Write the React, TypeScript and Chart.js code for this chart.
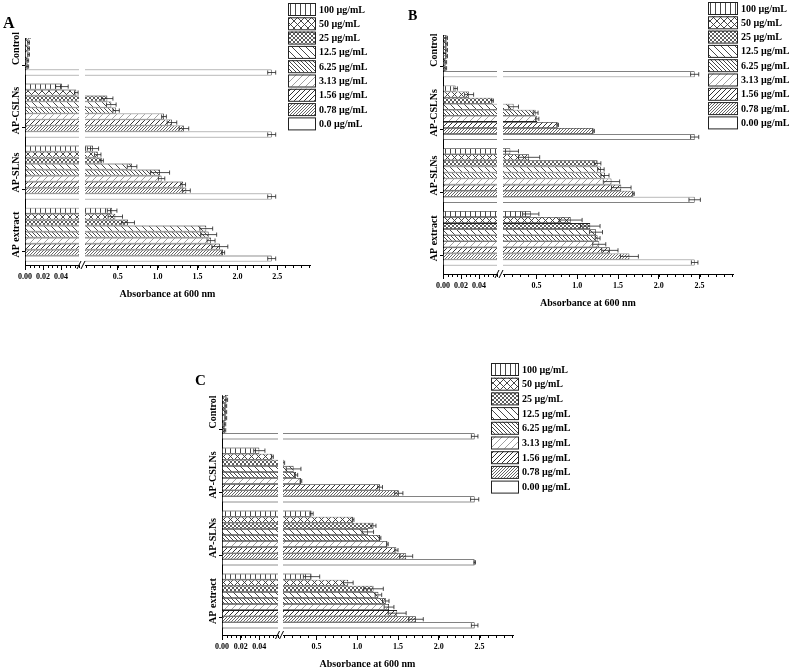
import { useEffect, useRef } from 'react';
import Chart from 'chart.js/auto';

const SERIF = '"Liberation Serif", "Times New Roman", serif';

// categories, top to bottom
const GROUPS = ['Control', 'AP-CSLNs', 'AP-SLNs', 'AP extract'];

// series labels, order 100 -> 0 µg/mL (legend order, also bar order inside a group)
const LEGEND_A = ['100 µg/mL', '50 µg/mL', '25 µg/mL', '12.5 µg/mL', '6.25 µg/mL', '3.13 µg/mL', '1.56 µg/mL', '0.78 µg/mL', '0.0 µg/mL'];
const LEGEND_BC = ['100 µg/mL', '50 µg/mL', '25 µg/mL', '12.5 µg/mL', '6.25 µg/mL', '3.13 µg/mL', '1.56 µg/mL', '0.78 µg/mL', '0.00 µg/mL'];

// broken x axis
const LEFT_TICKS = [0, 0.02, 0.04];
const RIGHT_TICKS = [0.5, 1.0, 1.5, 2.0, 2.5];
const LEFT_MIN = 0;
const LEFT_MAX = 0.06;
const RIGHT_MIN = 0.09;
const RIGHT_MAX = 2.91;
const LEFT_MINOR = 0.005;
const RIGHT_MINOR = 0.1;
const X_TITLE = 'Absorbance at 600 nm';

// panel A (means and SD, 100 -> 0.0 µg/mL)
const A_CONTROL = [0.005, 0.005, 0.005, 0.004, 0.004, 0.004, 0.003, 0.003, 2.43];
const A_CONTROL_SD = [0.001, 0.001, 0.001, 0.001, 0.001, 0.001, 0.001, 0.001, 0.05];
const A_CSLN = [0.041, 0.057, 0.37, 0.42, 0.48, 1.08, 1.18, 1.33, 2.43];
const A_CSLN_SD = [0.007, 0.002, 0.07, 0.06, 0.04, 0.03, 0.06, 0.06, 0.05];
const A_SLN = [0.19, 0.25, 0.3, 0.68, 1.03, 1.05, 1.32, 1.36, 2.43];
const A_SLN_SD = [0.07, 0.04, 0.02, 0.06, 0.12, 0.04, 0.03, 0.05, 0.05];
const A_EXTRACT = [0.43, 0.47, 0.63, 1.61, 1.64, 1.67, 1.78, 1.82, 2.43];
const A_EXTRACT_SD = [0.06, 0.09, 0.08, 0.08, 0.1, 0.05, 0.1, 0.02, 0.05];

// panel B
const B_CONTROL = [0.005, 0.005, 0.004, 0.004, 0.004, 0.004, 0.003, 0.003, 2.44];
const B_CONTROL_SD = [0.001, 0.001, 0.001, 0.001, 0.001, 0.001, 0.001, 0.001, 0.05];
const B_CSLN = [0.014, 0.029, 0.055, 0.22, 0.49, 0.51, 0.76, 1.2, 2.44];
const B_CSLN_SD = [0.002, 0.005, 0.001, 0.06, 0.03, 0.02, 0.01, 0.01, 0.05];
const B_SLN = [0.18, 0.41, 1.25, 1.29, 1.34, 1.42, 1.54, 1.69, 2.44];
const B_SLN_SD = [0.1, 0.13, 0.04, 0.04, 0.05, 0.1, 0.12, 0.01, 0.07];
const B_EXTRACT = [0.43, 0.92, 1.16, 1.23, 1.25, 1.27, 1.4, 1.64, 2.44];
const B_EXTRACT_SD = [0.1, 0.14, 0.12, 0.08, 0.03, 0.08, 0.1, 0.11, 0.04];

// panel C
const C_CONTROL = [0.005, 0.005, 0.005, 0.004, 0.004, 0.004, 0.003, 0.003, 2.44];
const C_CONTROL_SD = [0.001, 0.001, 0.001, 0.001, 0.001, 0.001, 0.001, 0.001, 0.04];
const C_CSLN = [0.04, 0.054, 0.1, 0.22, 0.25, 0.31, 1.28, 1.51, 2.44];
const C_CSLN_SD = [0.006, 0.001, 0.01, 0.09, 0.02, 0.01, 0.03, 0.05, 0.05];
const C_SLN = [0.44, 0.95, 1.2, 1.13, 1.28, 1.37, 1.48, 1.6, 2.44];
const C_SLN_SD = [0.02, 0.01, 0.03, 0.07, 0.01, 0.01, 0.02, 0.08, 0.01];
const C_EXTRACT = [0.44, 0.89, 1.2, 1.26, 1.35, 1.39, 1.49, 1.72, 2.44];
const C_EXTRACT_SD = [0.1, 0.06, 0.12, 0.04, 0.04, 0.06, 0.11, 0.09, 0.04];

// hatch fill per concentration
const HATCHES = [
  { kind: 'v', size: 5, color: '#333', width: 0.9 },
  { kind: 'x', size: 7, color: '#333', width: 0.9 },
  { kind: 'x', size: 4, color: '#333', width: 0.8 },
  { kind: 'b', size: 7, color: '#333', width: 0.9 },
  { kind: 'b', size: 4, color: '#333', width: 0.9 },
  { kind: 'f', size: 7, color: '#888', width: 0.8 },
  { kind: 'f', size: 5, color: '#333', width: 1 },
  { kind: 'f', size: 3, color: '#555', width: 0.9 },
  { kind: 'none', size: 4, color: '#fff', width: 0 },
];

const TICK_SHIFT = 0.27;
const BAR_BORDER = 0.8;

const PANELS = [
  {
    id: 'A',
    legend: LEGEND_A,
    means: [A_CONTROL, A_CSLN, A_SLN, A_EXTRACT],
    sds: [A_CONTROL_SD, A_CSLN_SD, A_SLN_SD, A_EXTRACT_SD],
    box: { left: 0, top: 0, w: 395, h: 310 },
    area: { l: 25, t: 38, r: 310, b: 265 },
    seg: [54, 6, 225],
    yRange: [-0.17, 3.49],
    leg: { x: 288, y: 3, w: 27, h: 12, pitch: 14.3 },
    letter: { x: 3, y: 28, size: 16 },
  },
  {
    id: 'B',
    legend: LEGEND_BC,
    means: [B_CONTROL, B_CSLN, B_SLN, B_EXTRACT],
    sds: [B_CONTROL_SD, B_CSLN_SD, B_SLN_SD, B_EXTRACT_SD],
    box: { left: 395, top: 0, w: 394, h: 320 },
    area: { l: 48, t: 35, r: 338, b: 274 },
    seg: [54, 6, 230],
    yRange: [-0.24, 3.57],
    leg: { x: 313, y: 2, w: 29, h: 12, pitch: 14.3 },
    letter: { x: 13, y: 20, size: 14 },
  },
  {
    id: 'C',
    legend: LEGEND_BC,
    means: [C_CONTROL, C_CSLN, C_SLN, C_EXTRACT],
    sds: [C_CONTROL_SD, C_CSLN_SD, C_SLN_SD, C_EXTRACT_SD],
    box: { left: 185, top: 320, w: 400, h: 348 },
    area: { l: 37, t: 75, r: 328, b: 315 },
    seg: [56, 5, 230],
    yRange: [-0.27, 3.54],
    leg: { x: 306, y: 43, w: 27, h: 12, pitch: 14.7 },
    letter: { x: 10, y: 65, size: 15 },
  },
];

function makePattern(h: any) {
  const s = h.size;
  const c = document.createElement('canvas');
  c.width = s;
  c.height = s;
  const g = c.getContext('2d') as CanvasRenderingContext2D;
  g.fillStyle = '#fff';
  g.fillRect(0, 0, s, s);
  g.strokeStyle = h.color;
  g.lineWidth = h.width;
  g.beginPath();
  if (h.kind === 'v') {
    g.moveTo(0.5, 0);
    g.lineTo(0.5, s);
  }
  if (h.kind === 'f' || h.kind === 'x') {
    g.moveTo(-1, s + 1); g.lineTo(s + 1, -1);
    g.moveTo(-1, 1); g.lineTo(1, -1);
    g.moveTo(s - 1, s + 1); g.lineTo(s + 1, s - 1);
  }
  if (h.kind === 'b' || h.kind === 'x') {
    g.moveTo(-1, -1); g.lineTo(s + 1, s + 1);
    g.moveTo(-1, s - 1); g.lineTo(1, s + 1);
    g.moveTo(s - 1, -1); g.lineTo(s + 1, 1);
  }
  if (h.kind !== 'none') g.stroke();
  return g.createPattern(c, 'repeat') as CanvasPattern;
}

function PanelChart({ p }: { p: any }) {
  const canvasRef = useRef<HTMLCanvasElement>(null);

  useEffect(() => {
    if (!canvasRef.current) return;
    const patterns = HATCHES.map(makePattern);

    const datasets: any[] = [];
    p.legend.forEach((label: string, c: number) => {
      const vals = p.means.map((g: number[]) => g[c]);
      const sds = p.sds.map((g: number[]) => g[c]);
      const common = {
        label,
        backgroundColor: patterns[c],
        borderColor: '#222',
        stack: 'c' + c,
        categoryPercentage: 0.87,
        barPercentage: 1,
        clip: 0,
        means: vals,
        sds,
      };
      // left part of the broken axis
      datasets.push({
        ...common,
        seg: 'L',
        xAxisID: 'xL',
        data: vals.map((v: number, g: number) => ({ x: Math.min(v, LEFT_MAX), y: g })),
        borderWidth: (ctx: any) =>
          ctx.raw && ctx.raw.x >= LEFT_MAX
            ? { top: BAR_BORDER, bottom: BAR_BORDER, left: 0, right: 0 }
            : BAR_BORDER,
      });
      // right part
      datasets.push({
        ...common,
        seg: 'R',
        xAxisID: 'xR',
        base: RIGHT_MIN,
        data: vals.map((v: number, g: number) => ({ x: v > RIGHT_MIN ? v : null, y: g })),
        borderWidth: BAR_BORDER,
      });
    });

    const tickFont = { family: SERIF, size: 8, weight: 'bold' as const };
    const xHeight = (s: any) => {
      s.height = p.box.h - p.area.b;
    };

    const decorations = {
      id: 'decorations',
      afterDraw(chart: any) {
        const ctx = chart.ctx;
        const a = chart.chartArea;
        const xL = chart.scales.xL;
        const xR = chart.scales.xR;
        const y = chart.scales.y;

        // error bars
        ctx.save();
        ctx.beginPath();
        ctx.rect(0, a.top, chart.width, a.bottom - a.top);
        ctx.clip();
        ctx.strokeStyle = '#222';
        ctx.lineWidth = 0.8;
        chart.data.datasets.forEach((ds: any, di: number) => {
          const meta = chart.getDatasetMeta(di);
          const scale = ds.seg === 'L' ? xL : xR;
          ds.means.forEach((v: number, i: number) => {
            const inLeft = v <= LEFT_MAX;
            if ((ds.seg === 'L') !== inLeft) return;
            const bar = meta.data[i];
            if (!bar) return;
            const sd = ds.sds[i];
            const loRaw = scale.getPixelForValue(v - sd);
            const lo = Math.max(loRaw, scale.left);
            const hi = scale.getPixelForValue(v + sd);
            const cy = bar.y;
            const hh = bar.height * 0.35;
            ctx.beginPath();
            ctx.moveTo(lo, cy);
            ctx.lineTo(hi, cy);
            ctx.moveTo(hi, cy - hh);
            ctx.lineTo(hi, cy + hh);
            if (loRaw > scale.left) {
              ctx.moveTo(lo, cy - hh);
              ctx.lineTo(lo, cy + hh);
            }
            ctx.stroke();
          });
        });
        ctx.restore();

        ctx.save();
        // minor ticks
        ctx.strokeStyle = '#000';
        ctx.lineWidth = 1;
        const minor = (scale: any, from: number, to: number, step: number) => {
          const n = Math.round((to - from) / step);
          ctx.beginPath();
          for (let k = 0; k <= n; k++) {
            const px = Math.round(scale.getPixelForValue(from + k * step)) + 0.5;
            ctx.moveTo(px, a.bottom);
            ctx.lineTo(px, a.bottom + 3);
          }
          ctx.stroke();
        };
        minor(xL, LEFT_MIN, LEFT_MAX, LEFT_MINOR);
        minor(xR, 0.1, 2.9, RIGHT_MINOR);

        // axis break marks
        const gx = (xL.right + xR.left) / 2;
        ctx.beginPath();
        ctx.moveTo(gx - 5, a.bottom + 4);
        ctx.lineTo(gx - 1, a.bottom - 4);
        ctx.moveTo(gx - 1, a.bottom + 4);
        ctx.lineTo(gx + 3, a.bottom - 4);
        ctx.stroke();

        // category labels
        ctx.fillStyle = '#000';
        ctx.font = `bold 10px ${SERIF}`;
        ctx.textAlign = 'center';
        ctx.textBaseline = 'middle';
        GROUPS.forEach((g, i) => {
          ctx.save();
          ctx.translate(a.left - 9, y.getPixelForValue(i));
          ctx.rotate(-Math.PI / 2);
          ctx.fillText(g, 0, 0);
          ctx.restore();
        });

        // x title
        ctx.fillText(X_TITLE, (a.left + a.right) / 2, a.bottom + 29);

        // legend
        const leg = p.leg;
        ctx.textAlign = 'left';
        p.legend.forEach((label: string, c: number) => {
          const yy = leg.y + c * leg.pitch;
          ctx.fillStyle = chart.data.datasets[c * 2].backgroundColor;
          ctx.fillRect(leg.x, yy, leg.w, leg.h);
          ctx.strokeStyle = '#222';
          ctx.strokeRect(leg.x + 0.5, yy + 0.5, leg.w, leg.h);
          ctx.fillStyle = '#000';
          ctx.fillText(label, leg.x + leg.w + 4, yy + leg.h / 2 + 1);
        });

        // panel letter
        ctx.font = `bold ${p.letter.size}px ${SERIF}`;
        ctx.textBaseline = 'alphabetic';
        ctx.fillText(p.id, p.letter.x, p.letter.y);
        ctx.restore();
      },
    };

    const chart = new Chart(canvasRef.current, {
      type: 'bar',
      data: { datasets },
      options: {
        indexAxis: 'y',
        responsive: false,
        animation: false,
        events: [],
        layout: { padding: { top: p.area.t, right: p.box.w - p.area.r, bottom: 0, left: 0 } },
        plugins: {
          legend: { display: false },
          title: { display: false },
          tooltip: { enabled: false },
        },
        scales: {
          y: {
            type: 'linear',
            axis: 'y',
            position: 'left',
            min: p.yRange[0],
            max: p.yRange[1],
            reverse: true,
            offset: false,
            afterBuildTicks: (s: any) => {
              s.ticks = GROUPS.map((_, i) => ({ value: i + TICK_SHIFT }));
            },
            afterFit: (s: any) => {
              s.width = p.area.l;
            },
            grid: { display: true, offset: false, drawOnChartArea: false, drawTicks: true, tickLength: 3, tickColor: '#000' },
            border: { display: true, color: '#000', width: 1 },
            ticks: { display: false },
          },
          xL: {
            type: 'linear',
            axis: 'x',
            position: 'bottom',
            stack: 'x',
            stackWeight: p.seg[0],
            min: LEFT_MIN,
            max: LEFT_MAX,
            stacked: false,
            beginAtZero: false,
            afterBuildTicks: (s: any) => {
              s.ticks = LEFT_TICKS.map((v) => ({ value: v }));
            },
            afterFit: xHeight,
            grid: { display: true, drawOnChartArea: false, drawTicks: true, tickLength: 5, tickColor: '#000' },
            border: { display: true, color: '#000', width: 1 },
            ticks: {
              color: '#000',
              font: tickFont,
              padding: 2,
              maxRotation: 0,
              autoSkip: false,
              callback: (v: any) => Number(v).toFixed(2),
            },
          },
          xGap: {
            type: 'linear',
            axis: 'x',
            position: 'bottom',
            stack: 'x',
            stackWeight: p.seg[1],
            display: false,
            min: 0,
            max: 1,
          },
          xR: {
            type: 'linear',
            axis: 'x',
            position: 'bottom',
            stack: 'x',
            stackWeight: p.seg[2],
            min: RIGHT_MIN,
            max: RIGHT_MAX,
            stacked: false,
            beginAtZero: false,
            afterBuildTicks: (s: any) => {
              s.ticks = RIGHT_TICKS.map((v) => ({ value: v }));
            },
            afterFit: xHeight,
            grid: { display: true, drawOnChartArea: false, drawTicks: true, tickLength: 5, tickColor: '#000' },
            border: { display: true, color: '#000', width: 1 },
            ticks: {
              color: '#000',
              font: tickFont,
              padding: 2,
              maxRotation: 0,
              autoSkip: false,
              callback: (v: any) => Number(v).toFixed(1),
            },
          },
        } as any,
      },
      plugins: [decorations],
    } as any);

    return () => {
      chart.destroy();
    };
  }, [p]);

  return (
    <div style={{ position: 'absolute', left: p.box.left, top: p.box.top, width: p.box.w, height: p.box.h }}>
      <canvas
        ref={canvasRef}
        width={p.box.w}
        height={p.box.h}
        style={{ display: 'block', width: p.box.w, height: p.box.h }}
      />
    </div>
  );
}

export default function App() {
  return (
    <div style={{ position: 'absolute', left: 0, top: 0, width: 789, height: 668, background: '#fff' }}>
      {PANELS.map((p) => (
        <PanelChart key={p.id} p={p} />
      ))}
    </div>
  );
}
